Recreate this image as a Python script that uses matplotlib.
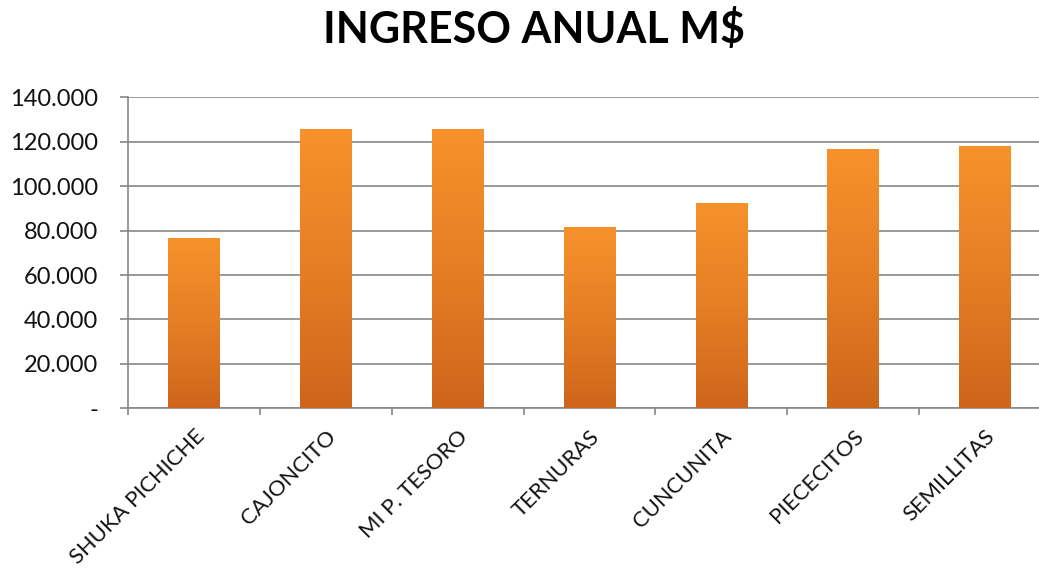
import matplotlib
matplotlib.use("Agg")
import matplotlib.pyplot as plt
import numpy as np
from matplotlib.colors import LinearSegmentedColormap
from matplotlib.ticker import FuncFormatter

title = "INGRESO ANUAL M$"
categories = ["SHUKA PICHICHE", "CAJONCITO", "MI P. TESORO", "TERNURAS",
              "CUNCUNITA", "PIECECITOS", "SEMILLITAS"]
values = [76500, 125700, 125700, 81800, 92300, 116600, 118200]
yticks = [0, 20000, 40000, 60000, 80000, 100000, 120000, 140000]

plt.rcParams['font.family'] = ['Lato', 'DejaVu Sans']

W, H = 1039, 572
fig = plt.figure(figsize=(W / 100, H / 100), dpi=100)
fig.patch.set_facecolor("white")
ax = fig.add_axes([128.3 / W, (H - 408.3) / H, (1050.8 - 128.3) / W, (408.3 - 97.3) / H])

x = np.arange(len(categories))
grid_c = "#878787"
bars = ax.bar(x, values, width=0.39, color="#E57F24", zorder=2, linewidth=0)

cmap = LinearSegmentedColormap.from_list("og", ["#CD661B", "#E67E25", "#F7922B"])
grad = np.linspace(0, 1, 256).reshape(-1, 1)
for b in bars:
    bx, bw, bh = b.get_x(), b.get_width(), b.get_height()
    im = ax.imshow(grad, cmap=cmap, aspect="auto", origin="lower",
                   extent=[bx, bx + bw, 0, bh], zorder=3)
    im.set_clip_path(b)

ax.set_xlim(-0.5, len(categories) - 0.5)
ax.set_ylim(0, 140000)
ax.set_yticks(yticks)
ax.yaxis.set_major_formatter(FuncFormatter(
    lambda v, p: "-" if v == 0 else f"{int(v):,}".replace(",", ".")))
ax.grid(axis="y", color=grid_c, linewidth=1.2, zorder=1)
ax.set_axisbelow(True)

for s in ["top", "right"]:
    ax.spines[s].set_visible(False)
for s in ["left", "bottom"]:
    ax.spines[s].set_color(grid_c)
    ax.spines[s].set_linewidth(1.2)

ax.set_xticks(np.arange(len(categories) + 1) - 0.5)
ax.set_xticklabels([])
ax.set_xticks(x, minor=True)
ax.set_xticklabels(categories, minor=True, rotation=45, ha="right",
                   rotation_mode="anchor", fontsize=15.8, color="#111111")
ax.tick_params(axis="x", which="major", length=5, color=grid_c, width=1.2)
ax.tick_params(axis="x", which="minor", length=0, pad=13)
ax.tick_params(axis="y", length=6, color=grid_c, width=1.2, labelsize=17,
               pad=15.5, labelcolor="#111111")

fig.text(534 / W, 1 - 43 / H, title, ha="center", va="baseline",
         fontsize=31, fontweight="bold", color="black")

fig.savefig("out.png", dpi=100, facecolor="white")
